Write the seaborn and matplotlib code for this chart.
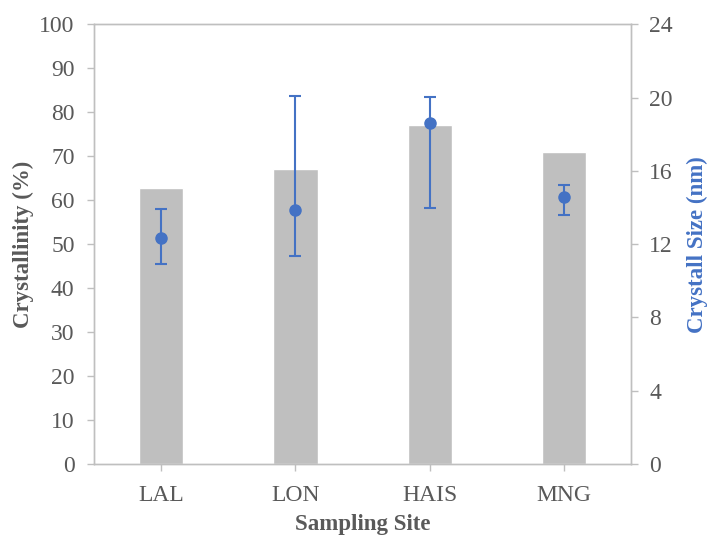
import numpy as np
import pandas as pd
import seaborn as sns
import matplotlib.pyplot as plt

# values
sites = ['LAL', 'LON', 'HAIS', 'MNG']
crystallinity = [62.7, 67.0, 77.0, 70.9]
crystal_size = [12.35, 13.88, 18.6, 14.56]
size_err_low = [1.43, 2.54, 4.6, 0.97]
size_err_high = [1.55, 6.2, 1.45, 0.67]

df = pd.DataFrame({'site': sites, 'cryst': crystallinity, 'size': crystal_size})

sns.set_style('white')
plt.rcParams['font.family'] = ['Liberation Serif', 'DejaVu Serif']

grey_txt = '#595959'
blue = '#4472C4'
spine_c = '#BFBFBF'

fig = plt.figure(figsize=(7.08, 5.36), dpi=100)
ax = fig.add_axes([0.1328, 0.1343, 0.7585, 0.8204])

sns.barplot(data=df, x='site', y='cryst', color='#BFBFBF', saturation=1,
            width=0.33, ax=ax)
ax.set_ylim(0, 100)
ax.set_yticks(range(0, 101, 10))
ax.set_xlim(-0.5, len(sites) - 0.5)
ax.set_xlabel('Sampling Site', fontsize=16.5, fontweight='bold', color=grey_txt, labelpad=6)
ax.set_ylabel('Crystallinity (%)', fontsize=16.5, fontweight='bold', color=grey_txt, labelpad=4)
ax.tick_params(axis='y', labelsize=17, colors=grey_txt, length=5, width=1,
               direction='out', left=True, pad=9)
ax.tick_params(axis='x', labelsize=17, colors=grey_txt, length=5, width=1,
               direction='out', bottom=True, pad=10)
ax.tick_params(axis='both', color=spine_c)

ax2 = ax.twinx()
ax2.errorbar(np.arange(len(sites)), crystal_size,
             yerr=[size_err_low, size_err_high], fmt='o', color=blue,
             markersize=8, elinewidth=1.5, capsize=4, capthick=1.5)
ax2.set_ylim(0, 24)
ax2.set_yticks(range(0, 25, 4))
ax2.set_ylabel('Crystall Size (nm)', fontsize=16.5, fontweight='bold', color=blue, labelpad=10)
ax2.tick_params(axis='y', labelsize=17, labelcolor=grey_txt, color=spine_c,
                length=5, width=1, direction='out', right=True, pad=8)

for a in (ax, ax2):
    for s in a.spines.values():
        s.set_color(spine_c)
        s.set_linewidth(1)

fig.savefig('out.png', dpi=100)
